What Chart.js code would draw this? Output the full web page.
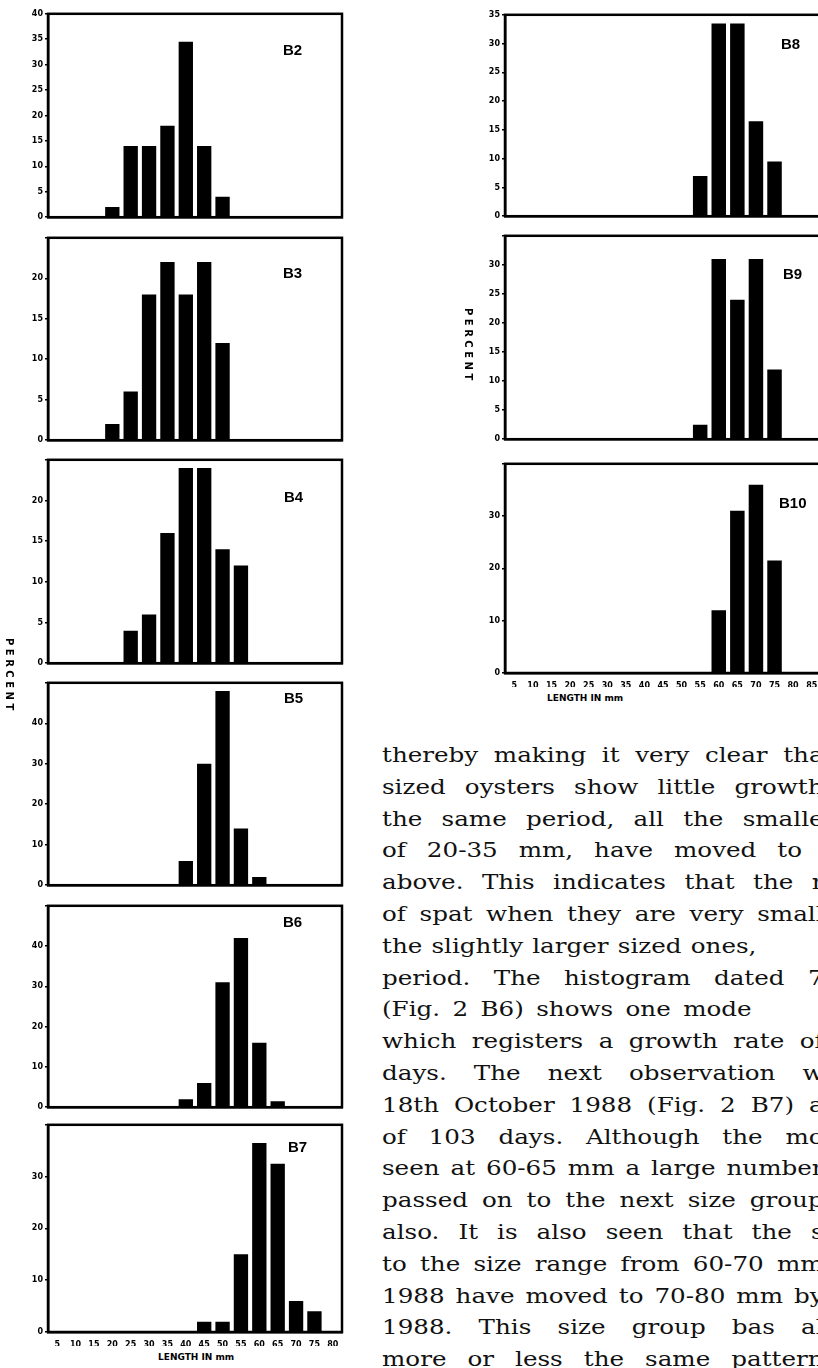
<!DOCTYPE html>
<html>
<head>
<meta charset="utf-8">
<script src="https://cdn.jsdelivr.net/npm/chart.js@4.4.1/dist/chart.umd.min.js"></script>
<style>
  body { margin: 0; width: 818px; height: 1368px; overflow: hidden; background: #fff; position: relative; }
  canvas { position: absolute; }
  .tag { position: absolute; font-family: "Liberation Sans", Arial, sans-serif; font-weight: bold; font-size: 15px; color: #000; }
  .ytitle { position: absolute; font-family: "DejaVu Sans", sans-serif; font-weight: bold; font-size: 10px; writing-mode: vertical-rl; letter-spacing: 3.5px; }
  .xtitle { position: absolute; font-family: "DejaVu Sans", sans-serif; font-weight: bold; font-size: 9px; white-space: nowrap; }
  .line { position: absolute; left: 382px; font-family: "DejaVu Serif", serif; font-size: 20.5px; white-space: nowrap;
          text-align: justify; text-align-last: justify; height: 32px; line-height: 32px; color: #111;
          transform: scaleX(1.2); transform-origin: 0 0; }
</style>
</head>
<body>
<canvas id="b2"></canvas>
<canvas id="b3"></canvas>
<canvas id="b4"></canvas>
<canvas id="b5"></canvas>
<canvas id="b6"></canvas>
<canvas id="b7"></canvas>
<canvas id="b8"></canvas>
<canvas id="b9"></canvas>
<canvas id="b10"></canvas>

<div class="tag" style="left:283px;top:41px">B2</div>
<div class="tag" style="left:283px;top:264px">B3</div>
<div class="tag" style="left:284px;top:488px">B4</div>
<div class="tag" style="left:284px;top:689px">B5</div>
<div class="tag" style="left:283px;top:913px">B6</div>
<div class="tag" style="left:288px;top:1138px">B7</div>
<div class="tag" style="left:781px;top:35px">B8</div>
<div class="tag" style="left:783px;top:265px">B9</div>
<div class="tag" style="left:779px;top:494px">B10</div>

<div class="ytitle" style="left:4px;top:638px">PERCENT</div>
<div class="ytitle" style="left:463px;top:308px">PERCENT</div>
<div class="xtitle" style="left:158px;top:1352px">LENGTH IN mm</div>
<div class="xtitle" style="left:547px;top:693px">LENGTH IN mm</div>

<div id="text"></div>

<script>
// length classes (mm) on the x axis
const lengthsLeft = ['5', '10', '15', '20', '25', '30', '35', '40', '45', '50', '55', '60', '65', '70', '75', '80'];
const lengthsRight = ['5', '10', '15', '20', '25', '30', '35', '40', '45', '50', '55', '60', '65', '70', '75', '80', '85'];

// percent frequency per length class
const b2 = [null, null, null, 2, 14, 14, 18, 34.5, 14, 4, null, null, null, null, null, null];
const b3 = [null, null, null, 2, 6, 18, 22, 18, 22, 12, null, null, null, null, null, null];
const b4 = [null, null, null, null, 4, 6, 16, 24, 24, 14, 12, null, null, null, null, null];
const b5 = [null, null, null, null, null, null, null, 6, 30, 48, 14, 2, null, null, null, null];
const b6 = [null, null, null, null, null, null, null, 2, 6, 31, 42, 16, 1.5, null, null, null];
const b7 = [null, null, null, null, null, null, null, null, 2, 2, 15, 36.5, 32.5, 6, 4, null];
const b8 = [null, null, null, null, null, null, null, null, null, null, 7, 33.5, 33.5, 16.5, 9.5, null, null];
const b9 = [null, null, null, null, null, null, null, null, null, null, 2.5, 31, 24, 31, 12, null, null];
const b10 = [null, null, null, null, null, null, null, null, null, null, null, 12, 31, 36, 21.5, null, null];

const textLines = [
  'thereby making it very clear tha',
  'sized oysters show little growth',
  'the same period, all the smalle',
  'of 20-35 mm, have moved to',
  'above. This indicates that the r',
  'of spat when they are very small',
  'the slightly larger sized ones,',
  'period. The histogram dated 7',
  '(Fig. 2 B6) shows one mode',
  'which registers a growth rate of',
  'days. The next observation w',
  '18th October 1988 (Fig. 2 B7) a',
  'of 103 days. Although the mo',
  'seen at 60-65 mm a large number',
  'passed on to the next size group',
  'also. It is also seen that the s',
  'to the size range from 60-70 mm',
  '1988 have moved to 70-80 mm by',
  '1988. This size group bas al',
  'more or less the same pattern'
];
// widths (before the 1.2 stretch) for lines that stop before the page edge
const lineWidths = {3: 350, 6: 312, 8: 308};

const tickFont = { family: 'DejaVu Sans', size: 8, weight: 'bold' };

const framePlugin = {
  id: 'frame',
  afterDatasetsDraw(chart) {
    const { ctx, chartArea: a } = chart;
    ctx.save();
    ctx.strokeStyle = '#000';
    ctx.lineWidth = 2.5;
    ctx.strokeRect(a.left, a.top, a.right - a.left, a.bottom - a.top);
    ctx.restore();
  }
};

function panel(id, box, labels, values, yMax, yStep, hideTop, showX) {
  const xh = showX ? 14 : 2;
  const cv = document.getElementById(id);
  const w = box.right - box.left + 44;
  const h = box.bottom - box.top + 4 + xh;
  cv.width = w; cv.height = h;
  cv.style.left = (box.left - 40) + 'px';
  cv.style.top = (box.top - 4) + 'px';
  cv.style.width = w + 'px';
  cv.style.height = h + 'px';

  new Chart(cv, {
    type: 'bar',
    data: {
      labels: labels,
      datasets: [{ data: values, backgroundColor: '#000', borderWidth: 0, barPercentage: 0.78, categoryPercentage: 1 }]
    },
    options: {
      responsive: false,
      animation: false,
      layout: { padding: { top: 4, right: 4, left: 0, bottom: 0 } },
      plugins: { legend: { display: false }, tooltip: { enabled: false } },
      scales: {
        x: {
          afterFit: s => { s.height = xh; },
          grid: { display: false },
          border: { display: true, color: '#000', width: 2.5 },
          ticks: { display: showX, color: '#000', font: tickFont, padding: 0, maxRotation: 0, autoSkip: false }
        },
        y: {
          min: 0, max: yMax,
          afterFit: s => { s.width = 40; },
          grid: { display: true, drawOnChartArea: false, drawTicks: true, tickLength: 3, color: '#000', lineWidth: 1.5 },
          border: { display: true, color: '#000', width: 2.5 },
          ticks: {
            stepSize: yStep, color: '#000', font: tickFont, padding: 2,
            callback: v => (hideTop && v === yMax) ? '' : v
          }
        }
      }
    },
    plugins: [framePlugin]
  });
}

const L = 48, LR = 342, R = 505, RR = 821;
panel('b2', { left: L, right: LR, top: 11, bottom: 222 }, lengthsLeft, b2, 40, 5, false, false);
panel('b3', { left: L, right: LR, top: 235, bottom: 445 }, lengthsLeft, b3, 25, 5, true, false);
panel('b4', { left: L, right: LR, top: 457, bottom: 668 }, lengthsLeft, b4, 25, 5, true, false);
panel('b5', { left: L, right: LR, top: 680, bottom: 890 }, lengthsLeft, b5, 50, 10, true, false);
panel('b6', { left: L, right: LR, top: 903, bottom: 1112 }, lengthsLeft, b6, 50, 10, true, false);
panel('b7', { left: L, right: LR, top: 1122, bottom: 1332 }, lengthsLeft, b7, 40, 10, true, true);
panel('b8', { left: R, right: RR, top: 12, bottom: 221 }, lengthsRight, b8, 35, 5, false, false);
panel('b9', { left: R, right: RR, top: 233, bottom: 444 }, lengthsRight, b9, 35, 5, true, false);
panel('b10', { left: R, right: RR, top: 461, bottom: 673 }, lengthsRight, b10, 40, 10, true, true);

const box = document.getElementById('text');
textLines.forEach((t, i) => {
  const d = document.createElement('div');
  d.className = 'line';
  d.textContent = t;
  d.style.top = (739 + i * 31.8) + 'px';
  d.style.width = (lineWidths[i] || 368) + 'px';
  box.appendChild(d);
});
</script>
</body>
</html>
